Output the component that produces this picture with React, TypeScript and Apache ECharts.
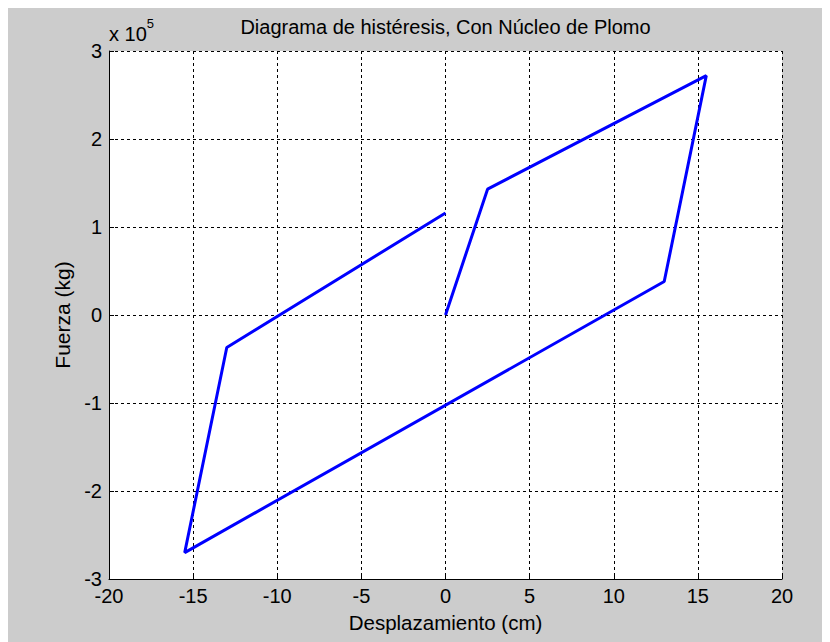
import React, { useEffect, useRef } from "react";
import * as echarts from "echarts";

// Hysteresis loop vertices: displacement (cm) and force (kg)
const desplazamiento = [0, 2.5, 15.5, 13, -15.5, -13, 0];
const fuerza = [0, 143000, 272000, 38000, -270000, -37000, 116000];

const xMin = -20;
const xMax = 20;
const xStep = 5;
const yMin = -300000;
const yMax = 300000;
const yStep = 100000;
const yScale = 100000;

const titulo = "Diagrama de histéresis, Con Núcleo de Plomo";
const etiquetaX = "Desplazamiento (cm)";
const etiquetaY = "Fuerza (kg)";

const FONT = "'Liberation Sans', Arial, sans-serif";

// plot box inside the 830x642 canvas
const GRID = { left: 101, right: 56, top: 43, bottom: 71 };
const plotCenterX = GRID.left + (830 - GRID.left - GRID.right) / 2;

export default function App() {
  const ref = useRef<HTMLDivElement>(null);

  useEffect(() => {
    if (!ref.current) return;
    const chart = echarts.init(ref.current, undefined, { renderer: "svg" });
    const puntos = desplazamiento.map((x, i) => [x, fuerza[i]]);
    const gridLine = { show: true, lineStyle: { color: "#000", type: [3, 3] as number[], width: 1 } };

    chart.setOption({
      animation: false,
      backgroundColor: "#cccccc",
      textStyle: { fontFamily: FONT },
      grid: { ...GRID, show: true, backgroundColor: "#fff", borderWidth: 0 },
      xAxis: {
        type: "value",
        min: xMin,
        max: xMax,
        interval: xStep,
        name: etiquetaX,
        nameLocation: "middle",
        nameGap: 33,
        nameTextStyle: { fontFamily: FONT, fontSize: 20.5, color: "#000" },
        axisLine: { show: true, onZero: false, lineStyle: { color: "#000", width: 1 } },
        axisTick: { show: true, inside: true, length: 5, lineStyle: { color: "#000" } },
        axisLabel: { color: "#000", fontSize: 20, lineHeight: 16, fontFamily: FONT, margin: 9 },
        splitLine: gridLine,
      },
      yAxis: {
        type: "value",
        min: yMin,
        max: yMax,
        interval: yStep,
        name: etiquetaY,
        nameLocation: "middle",
        nameGap: 36,
        nameRotate: 90,
        nameTextStyle: { fontFamily: FONT, fontSize: 21, color: "#000" },
        axisLine: { show: true, onZero: false, lineStyle: { color: "#000", width: 1 } },
        axisTick: { show: true, inside: true, length: 5, lineStyle: { color: "#000" } },
        axisLabel: {
          color: "#000",
          fontSize: 20,
          lineHeight: 16,
          fontFamily: FONT,
          margin: 7,
          formatter: (v: number) => String(Math.round(v / yScale)),
        },
        splitLine: gridLine,
      },
      graphic: [
        {
          type: "text",
          x: plotCenterX,
          y: 19,
          style: {
            text: titulo,
            fontFamily: FONT,
            fontSize: 20,
            fill: "#000",
            textAlign: "center",
            textVerticalAlign: "middle",
          },
        },
        {
          type: "text",
          left: 101,
          top: 9,
          style: {
            text: "{a|x 10}{b|5}",
            rich: {
              a: { fontFamily: FONT, fontSize: 20, fill: "#000", padding: [7, 0, 0, 0] },
              b: { fontFamily: FONT, fontSize: 13, fill: "#000", verticalAlign: "top" },
            },
          },
        },
      ],
      series: [
        {
          type: "line",
          data: puntos,
          showSymbol: false,
          lineStyle: { color: "#0000ff", width: 3 },
          itemStyle: { color: "#0000ff" },
        },
      ],
    });

    return () => chart.dispose();
  }, []);

  return <div ref={ref} style={{ width: 830, height: 642 }} />;
}
